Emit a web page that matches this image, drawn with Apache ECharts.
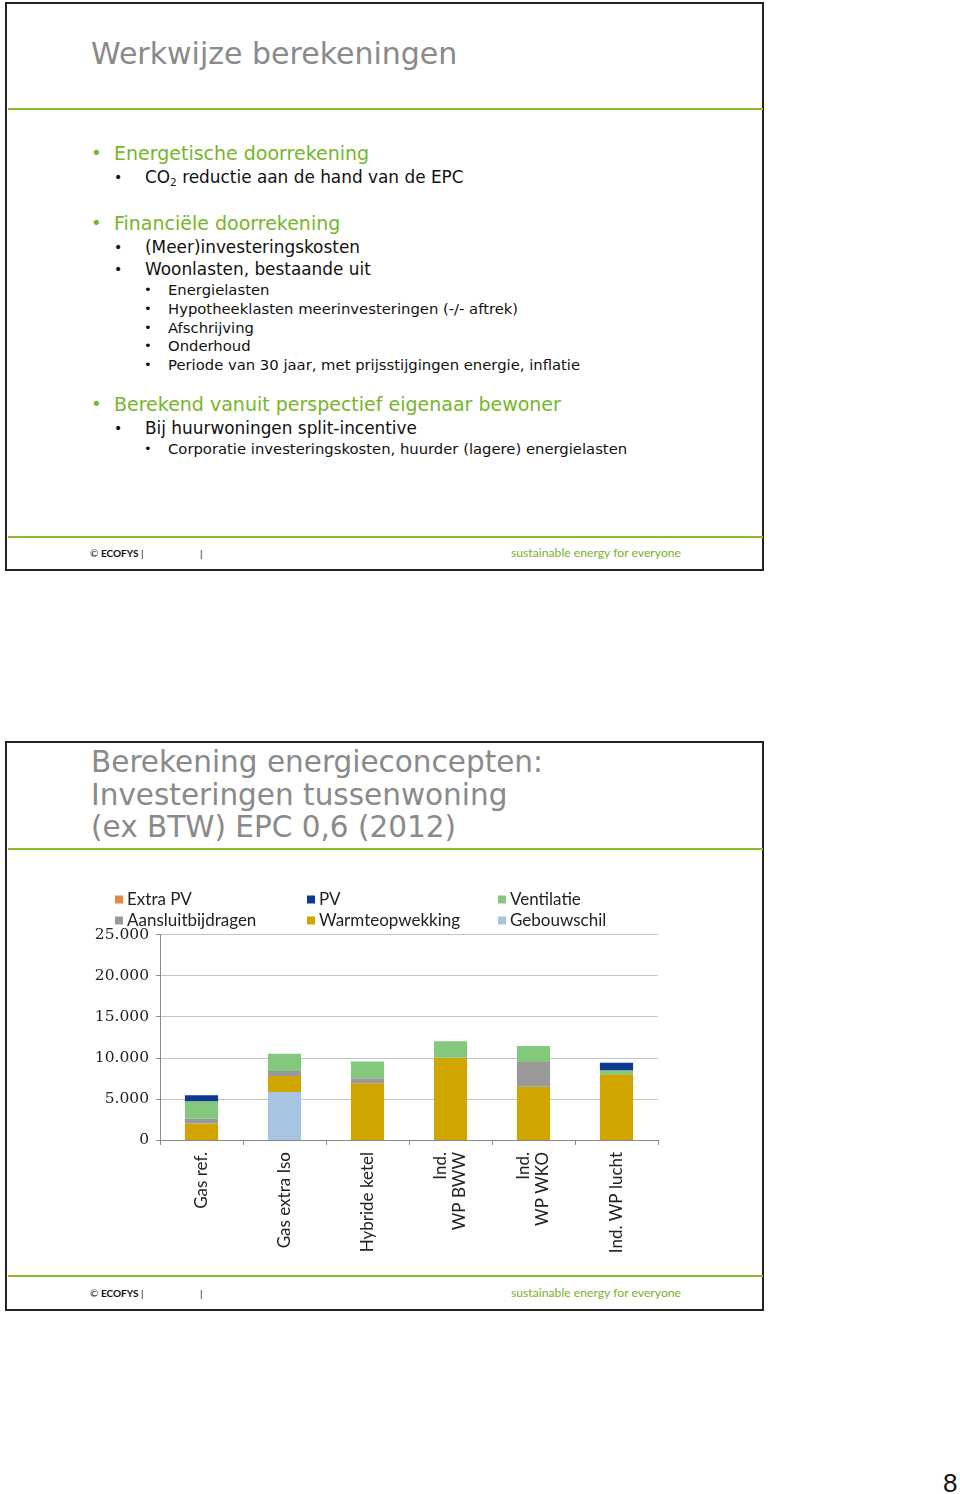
<!DOCTYPE html>
<html>
<head>
<meta charset="utf-8">
<script src="https://cdn.jsdelivr.net/npm/echarts@6/dist/echarts.min.js"></script>
<style>
  html, body { margin:0; padding:0; background:#fff; }
  body { width:960px; height:1494px; position:relative; overflow:hidden; font-family:"DejaVu Sans", sans-serif; }
  .box { position:absolute; border:2px solid #222; box-sizing:border-box; }
  .gline { position:absolute; left:8px; width:755px; height:2px; background:#8cba2c; }
  .title { position:absolute; left:91px; font-family:"DejaVu Sans",sans-serif; color:#8a8a8a; line-height:32.5px; white-space:nowrap; }
  .t { position:absolute; white-space:nowrap; }
  .l1 { left:114px; font-size:19px; color:#77b52a; line-height:22px; }
  .l2 { left:145px; font-size:16.9px; color:#111; line-height:20px; }
  .l3 { left:168px; font-size:14.8px; color:#111; line-height:18px; }
  .b1 { position:absolute; left:91px; font-size:18px; color:#77b52a; line-height:22px; }
  .b2 { position:absolute; left:114px; font-size:14px; color:#111; line-height:20px; }
  .b3 { position:absolute; left:144px; font-size:13px; color:#111; line-height:18px; }
  .foot { position:absolute; font-family:"Lato","Open Sans",sans-serif; white-space:nowrap; }
  sub { font-size:0.62em; vertical-align:-0.25em; line-height:0; }
  #chart { position:absolute; left:0; top:0; width:960px; height:1494px; }
</style>
</head>
<body>
<!-- Slide 1 -->
<div class="box" style="left:5px;top:2px;width:759px;height:569px;"></div>
<div class="title" style="top:38px;font-size:30px;">Werkwijze berekeningen</div>
<div class="gline" style="top:108px;"></div>

<div class="b1" style="top:142px;">•</div><div class="t l1" style="top:142px;">Energetische doorrekening</div>
<div class="b2" style="top:167px;">•</div><div class="t l2" style="top:167px;">CO<sub>2</sub> reductie aan de hand van de EPC</div>

<div class="b1" style="top:212px;">•</div><div class="t l1" style="top:212px;">Financiële doorrekening</div>
<div class="b2" style="top:237px;">•</div><div class="t l2" style="top:237px;">(Meer)investeringskosten</div>
<div class="b2" style="top:259px;">•</div><div class="t l2" style="top:259px;">Woonlasten, bestaande uit</div>
<div class="b3" style="top:281px;">•</div><div class="t l3" style="top:281px;">Energielasten</div>
<div class="b3" style="top:300px;">•</div><div class="t l3" style="top:300px;">Hypotheeklasten meerinvesteringen (-/- aftrek)</div>
<div class="b3" style="top:319px;">•</div><div class="t l3" style="top:319px;">Afschrijving</div>
<div class="b3" style="top:337px;">•</div><div class="t l3" style="top:337px;">Onderhoud</div>
<div class="b3" style="top:356px;">•</div><div class="t l3" style="top:356px;">Periode van 30 jaar, met prijsstijgingen energie, inflatie</div>

<div class="b1" style="top:393px;">•</div><div class="t l1" style="top:393px;">Berekend vanuit perspectief eigenaar bewoner</div>
<div class="b2" style="top:418px;">•</div><div class="t l2" style="top:418px;">Bij huurwoningen split-incentive</div>
<div class="b3" style="top:440px;">•</div><div class="t l3" style="top:440px;">Corporatie investeringskosten, huurder (lagere) energielasten</div>

<div class="gline" style="top:536px;"></div>
<div class="foot" style="left:90px;top:546px;font-size:10px;color:#111;line-height:14px;">© <b>ECOFYS</b> |</div>
<div class="foot" style="left:200px;top:546px;font-size:10px;color:#111;line-height:14px;">|</div>
<div class="foot" style="left:511px;top:545px;font-size:12.2px;color:#7bb02e;line-height:16px;">sustainable energy for everyone</div>

<!-- Slide 2 -->
<div class="box" style="left:5px;top:741px;width:759px;height:570px;"></div>
<div class="title" style="top:746px;font-size:29.5px;">Berekening energieconcepten:<br>Investeringen tussenwoning<br>(ex BTW) EPC 0,6 (2012)</div>
<div class="gline" style="top:848px;"></div>
<div class="gline" style="top:1275px;"></div>
<div class="foot" style="left:90px;top:1286px;font-size:10px;color:#111;line-height:14px;">© <b>ECOFYS</b> |</div>
<div class="foot" style="left:200px;top:1286px;font-size:10px;color:#111;line-height:14px;">|</div>
<div class="foot" style="left:511px;top:1285px;font-size:12.2px;color:#7bb02e;line-height:16px;">sustainable energy for everyone</div>

<div class="foot" style="left:943px;top:1468px;font-family:'Liberation Sans',Arial,sans-serif;font-size:26px;color:#111;line-height:30px;">8</div>

<div id="chart"></div>

<script>
// ---- data ----
var categories = ['Gas ref.', 'Gas extra Iso', 'Hybride ketel', 'Ind.\nWP BWW', 'Ind.\nWP WKO', 'Ind. WP lucht'];
var gebouwschil      = [0, 5850, 0, 0, 0, 0];
var warmteopwekking  = [2000, 1950, 6900, 10000, 6480, 8000];
var aansluitbijdragen= [600, 600, 600, 0, 3000, 0];
var ventilatie       = [2100, 2100, 2050, 2000, 1950, 500];
var pv               = [750, 0, 0, 0, 0, 900];
var extraPv          = [0, 0, 0, 0, 0, 0];
var yTicks = [0, 5000, 10000, 15000, 20000, 25000];

var colors = {
  'Extra PV': '#e3874a',
  'PV': '#0d3a8e',
  'Ventilatie': '#84c87e',
  'Aansluitbijdragen': '#999999',
  'Warmteopwekking': '#d0a500',
  'Gebouwschil': '#a7c4e3'
};

function fmt(v) { return String(v).replace(/\B(?=(\d{3})+(?!\d))/g, '.'); }

var seriesDefs = [
  ['Gebouwschil', gebouwschil],
  ['Warmteopwekking', warmteopwekking],
  ['Aansluitbijdragen', aansluitbijdragen],
  ['Ventilatie', ventilatie],
  ['PV', pv],
  ['Extra PV', extraPv]
];

var legendBase = {
  orient: 'vertical', top: 891, itemWidth: 8, itemHeight: 8, icon: 'rect', itemGap: 4,
  textStyle: { fontFamily: 'Lato, "Open Sans", sans-serif', fontSize: 17, color: '#222', lineHeight: 17, padding: [0,0,0,-1] },
  padding: 0
};

var chart = echarts.init(document.getElementById('chart'), null, { renderer: 'canvas' });
chart.setOption({
  animation: false,
  backgroundColor: 'transparent',
  legend: [
    Object.assign({}, legendBase, { left: 115, data: ['Extra PV', 'Aansluitbijdragen'] }),
    Object.assign({}, legendBase, { left: 307, data: ['PV', 'Warmteopwekking'] }),
    Object.assign({}, legendBase, { left: 498, data: ['Ventilatie', 'Gebouwschil'] })
  ],
  grid: { left: 160, top: 934.5, width: 498, height: 205.5, containLabel: false },
  xAxis: {
    type: 'category',
    data: categories,
    axisLine: { lineStyle: { color: '#8a8a8a', width: 1 } },
    axisTick: { show: true, length: 5, lineStyle: { color: '#8a8a8a' } },
    axisLabel: {
      rotate: 90, margin: 12, interval: 0,
      fontFamily: 'Lato, "Open Sans", sans-serif', fontSize: 17, color: '#222', lineHeight: 19
    }
  },
  yAxis: {
    type: 'value', min: 0, max: 25000, interval: 5000,
    axisLine: { show: true, lineStyle: { color: '#8a8a8a', width: 1 } },
    axisTick: { show: true, length: 4, lineStyle: { color: '#8a8a8a' } },
    splitLine: { lineStyle: { color: '#c4c4c4', width: 1 } },
    axisLabel: {
      margin: 11,
      fontFamily: '"DejaVu Serif", serif', fontSize: 15.5, color: '#222',
      formatter: function (v) { return yTicks.indexOf(v) >= 0 ? fmt(v) : ''; }
    }
  },
  series: seriesDefs.map(function (d) {
    return {
      name: d[0], type: 'bar', stack: 'total', data: d[1], barWidth: '40%',
      itemStyle: { color: colors[d[0]] }
    };
  })
});
</script>
</body>
</html>
